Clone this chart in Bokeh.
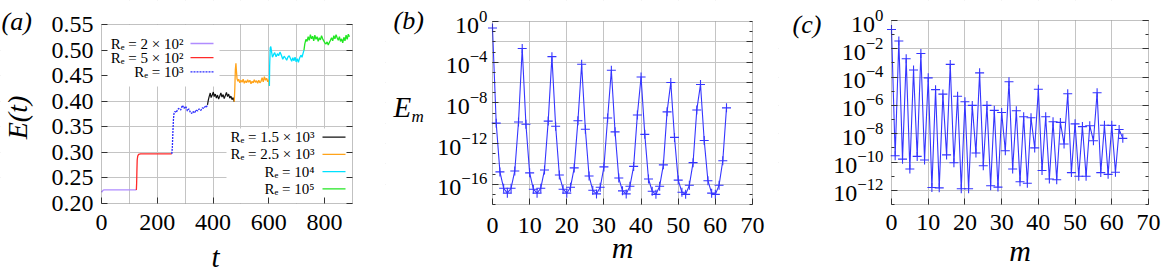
import math
from bokeh.plotting import figure
from bokeh.layouts import row
from bokeh.models import (FixedTicker, Label, BoxAnnotation, Arrow, Range1d,
                          LinearAxis, LogAxis, PrintfTickFormatter, CustomJSTickFormatter)
from bokeh.embed import file_html
from bokeh.resources import INLINE

FONT = "Liberation Serif"

# ---------------- panel (a) data: E(t) segments ----------------
purple_t = [0, 3, 6, 10, 30, 60, 90, 125]
purple_E = [0.222, 0.224, 0.226, 0.2265, 0.2265, 0.2265, 0.2265, 0.2265]

red_t = [125, 126, 127, 128, 130, 133, 140, 180, 220, 252]
red_E = [0.2265, 0.240, 0.265, 0.285, 0.293, 0.296, 0.297, 0.297, 0.297, 0.297]

blue_t = [252, 254, 256, 258, 260, 263, 268, 273, 278, 284, 290, 296, 302, 308,
          313, 318, 323, 328, 334, 339, 345, 350, 356, 362, 367, 372, 376, 380]
blue_E = [0.297, 0.310, 0.340, 0.365, 0.376, 0.380, 0.378, 0.384, 0.386, 0.383,
          0.392, 0.386, 0.390, 0.381, 0.385, 0.379, 0.376, 0.380, 0.377, 0.383,
          0.381, 0.385, 0.382, 0.387, 0.386, 0.390, 0.388, 0.393]

black_t = [380, 383, 386, 390, 393, 397, 401, 404, 408, 412, 416, 420, 424, 428,
           432, 436, 440, 444, 448, 452, 456, 460, 464, 468, 472, 476]
black_E = [0.393, 0.402, 0.409, 0.416, 0.407, 0.412, 0.418, 0.409, 0.414, 0.406,
           0.412, 0.404, 0.410, 0.416, 0.408, 0.413, 0.405, 0.411, 0.417, 0.409,
           0.414, 0.406, 0.410, 0.403, 0.407, 0.399]

orange_t = [476, 478, 480, 482, 484, 486, 489, 492, 496, 500, 504, 508, 512, 516,
            520, 524, 528, 532, 536, 540, 544, 548, 552, 556, 560, 564, 568, 572,
            576, 580, 584, 588, 592, 596, 599, 602]
orange_E = [0.399, 0.425, 0.462, 0.474, 0.458, 0.444, 0.439, 0.443, 0.436, 0.441,
            0.437, 0.443, 0.435, 0.440, 0.436, 0.442, 0.437, 0.441, 0.434, 0.439,
            0.436, 0.442, 0.437, 0.440, 0.435, 0.441, 0.436, 0.439, 0.446, 0.438,
            0.448, 0.441, 0.445, 0.438, 0.442, 0.430]

cyan_t = [602, 603, 605, 607, 610, 613, 617, 621, 626, 631, 635, 640, 645, 650,
          655, 660, 664, 668, 673, 678, 682, 686, 690, 694, 698, 702, 706, 710,
          715, 719, 722, 726]
cyan_E = [0.430, 0.470, 0.504, 0.507, 0.496, 0.486, 0.491, 0.495, 0.487, 0.493,
          0.489, 0.496, 0.490, 0.482, 0.488, 0.484, 0.480, 0.486, 0.489, 0.483,
          0.478, 0.485, 0.479, 0.486, 0.477, 0.483, 0.476, 0.484, 0.490, 0.486,
          0.492, 0.500]

green_t = [726, 729, 733, 737, 741, 745, 749, 753, 757, 761, 765, 769, 773, 777,
           781, 785, 789, 793, 797, 801, 805, 809, 813, 817, 821, 825, 829, 833,
           837, 841, 845, 849, 853, 857, 861, 865, 869, 873, 877, 881, 885, 889]
green_E = [0.500, 0.512, 0.521, 0.517, 0.526, 0.519, 0.530, 0.522, 0.527, 0.518,
           0.529, 0.521, 0.526, 0.517, 0.524, 0.520, 0.528, 0.522, 0.518, 0.514,
           0.512, 0.516, 0.510, 0.515, 0.519, 0.524, 0.518, 0.528, 0.522, 0.530,
           0.524, 0.519, 0.526, 0.517, 0.522, 0.514, 0.525, 0.518, 0.529, 0.521,
           0.531, 0.526]

legend_top = ["Rₑ = 2 × 10²", "Rₑ = 5 × 10²", "Rₑ = 10³"]
legend_bottom = ["Rₑ = 1.5 × 10³", "Rₑ = 2.5 × 10³", "Rₑ = 10⁴", "Rₑ = 10⁵"]

# ---------------- panel (b), (c) data: modal energies ----------------
m_vals = list(range(64))
Em_b = [2.3e-1, 1.0e-10, 1.6e-15, 4.0e-17, 1.3e-17, 4.0e-17, 2.0e-15, 1.3e-10,
        2.2e-3, 7.9e-11, 1.3e-15, 3.2e-17, 1.3e-17, 4.0e-17, 2.5e-15, 1.6e-10,
        3.5e-4, 5.0e-11, 7.9e-16, 3.2e-17, 1.3e-17, 5.0e-17, 4.0e-15, 1.7e-10,
        6.3e-5, 2.5e-11, 6.3e-16, 2.5e-17, 1.1e-17, 5.0e-17, 5.0e-15, 3.2e-10,
        1.6e-5, 1.4e-11, 4.0e-16, 2.2e-17, 1.1e-17, 6.3e-17, 5.6e-15, 6.3e-10,
        3.5e-6, 7.9e-12, 3.2e-16, 2.0e-17, 1.0e-17, 6.3e-17, 7.9e-15, 1.3e-9,
        1.0e-6, 4.0e-12, 2.5e-16, 1.6e-17, 1.0e-17, 7.9e-17, 1.3e-14, 2.0e-9,
        6.3e-7, 2.0e-12, 2.2e-16, 1.3e-17, 1.0e-17, 7.9e-17, 2.0e-14, 3.2e-9]
Em_c = [2.3e-1, 2.8e-10, 3.6e-2, 1.6e-10, 2.0e-3, 3.2e-11, 3.2e-4, 2.5e-10,
        4.7e-3, 1.4e-10, 8.9e-5, 1.6e-12, 1.3e-5, 1.5e-12, 6.3e-6, 3.2e-10,
        7.9e-4, 8.9e-11, 4.4e-6, 1.3e-12, 1.8e-6, 1.3e-12, 1.0e-6, 4.4e-10,
        2.0e-4, 5.5e-11, 1.0e-6, 2.1e-12, 4.5e-7, 1.7e-12, 3.2e-7, 6.3e-10,
        4.7e-5, 3.2e-11, 4.2e-7, 4.0e-12, 1.6e-7, 3.2e-12, 1.35e-7, 1.0e-9,
        1.4e-5, 2.5e-11, 1.6e-7, 6.3e-12, 7.1e-8, 5.6e-12, 6.3e-8, 1.9e-9,
        6.6e-6, 1.8e-11, 5.0e-8, 1.0e-11, 3.2e-8, 1.0e-11, 3.7e-8, 3.2e-9,
        7.9e-6, 1.8e-11, 4.0e-8, 1.35e-11, 3.9e-8, 1.9e-11, 2.0e-8, 4.7e-9]

a_xticks = [0, 200, 400, 600, 800]
a_xgrid = [100, 200, 300, 400, 500, 600, 700, 800]
a_yticks = [0.20, 0.25, 0.30, 0.35, 0.40, 0.45, 0.50, 0.55]
a_ygrid = [0.25, 0.30, 0.35, 0.40, 0.45, 0.50]
m_ticks = [0, 10, 20, 30, 40, 50, 60, 70]
m_grid = [10, 20, 30, 40, 50, 60]
b_yticks = [1e0, 1e-4, 1e-8, 1e-12, 1e-16]
b_ygrid = [10.0 ** -k for k in range(2, 17, 2)]
b_minor = [10.0 ** -k for k in range(0, 19)]
c_yticks = [10.0 ** -k for k in range(0, 13, 2)]
c_ygrid = [10.0 ** -k for k in range(2, 13, 2)]
c_minor = [10.0 ** -k for k in range(0, 14)]

FRAME = "#333333"
GRID = "#c4c4c4"
TICK_FONT = "24px"
H = 272
BLUE = "#3535ff"


def lin(px0, px1, v0, v1):
    return lambda px: v0 + (px - px0) * (v1 - v0) / (px1 - px0)


def make_panel(width, xf, yf, log=False):
    """Figure whose frame is the whole canvas; xf/yf map canvas px -> data."""
    kw = dict(width=width, height=H, x_range=Range1d(xf(0), xf(width)),
              y_range=Range1d(yf(H), yf(0)), output_backend="svg",
              toolbar_location=None, title=None, min_border_left=0,
              min_border_right=0, min_border_top=0, min_border_bottom=0)
    if log:
        kw["y_axis_type"] = "log"
    p = figure(**kw)
    p.outline_line_color = None
    p.background_fill_color = "white"
    p.border_fill_color = "white"
    return p


def style_axes(p):
    for ax in p.axis:
        ax.axis_line_color = None
        ax.major_tick_in = 6
        ax.major_tick_out = 0
        ax.minor_tick_in = 3
        ax.minor_tick_out = 0
        ax.major_tick_line_color = FRAME
        ax.minor_tick_line_color = FRAME
        ax.major_label_text_font = FONT
        ax.major_label_text_font_size = TICK_FONT
        ax.major_label_text_color = "black"
    p.grid.grid_line_color = GRID
    p.grid.grid_line_width = 1


def x_axes(p, ticks, box_bottom, label_loc):
    """Tick labels from the main x axis (placed a little below the box),
    inward tick marks from a second, label-less axis on the box edge."""
    main = p.xaxis[0]
    main.ticker = FixedTicker(ticks=ticks)
    main.fixed_location = label_loc
    p.add_layout(LinearAxis(ticker=FixedTicker(ticks=ticks), formatter=blank,
                            fixed_location=box_bottom), "below")


def box_and_masks(p, x0, x1, y0, y1):
    xs, xe = p.x_range.start, p.x_range.end
    ys, ye = p.y_range.start, p.y_range.end
    for (l, r, b, t) in [(xs, x0, ys, ye), (x1, xe, ys, ye), (x0, x1, y1, ye), (x0, x1, ys, y0)]:
        p.add_layout(BoxAnnotation(left=l, right=r, bottom=b, top=t, fill_color="white",
                                   fill_alpha=1.0, line_color=None, level="underlay"))
    p.add_layout(BoxAnnotation(left=x0, right=x1, bottom=y0, top=y1, fill_color=None,
                               fill_alpha=0.0, line_color=FRAME, line_width=1))


def label(p, x, y, text, size, italic=True, align="left", angle=0.0):
    p.add_layout(Label(x=x, y=y, text=text, text_font=FONT, text_font_size=size,
                       text_font_style="italic" if italic else "normal",
                       text_align=align, text_baseline="middle", angle=angle,
                       text_color="black"))


def labels_only(ax):
    ax.major_tick_in = 0
    ax.major_tick_out = 0
    ax.minor_tick_in = 0
    ax.minor_tick_out = 0


blank = CustomJSTickFormatter(code="return ''")

# ================= panel (a) =================
A_W = 385
ax_x = lin(101, 352, 0.0, 900.0)
ax_y = lin(24, 203, 0.55, 0.20)
p1 = make_panel(A_W, ax_x, ax_y)
x_axes(p1, a_xticks, 0.20, ax_y(203 + 6.5))
p1.yaxis.ticker = FixedTicker(ticks=a_yticks)
p1.yaxis.formatter = PrintfTickFormatter(format="%.2f")
p1.yaxis.fixed_location = 0.0
p1.xgrid.ticker = FixedTicker(ticks=a_xgrid)
p1.ygrid.ticker = FixedTicker(ticks=a_ygrid)
p1.add_layout(LinearAxis(ticker=FixedTicker(ticks=a_yticks), formatter=blank,
                         fixed_location=900.0), "right")
style_axes(p1)
labels_only(p1.xaxis[0])
p1.yaxis.major_label_standoff = 8
box_and_masks(p1, 0.0, 900.0, 0.20, 0.55)

# legend backgrounds (opaque keys), under the data
p1.add_layout(BoxAnnotation(left=0.0, right=ax_x(219), top=0.55, bottom=ax_y(86),
                            fill_color="white", fill_alpha=1.0, line_color=None, level="underlay"))
p1.add_layout(BoxAnnotation(left=ax_x(226), right=900.0, top=ax_y(128), bottom=0.20,
                            fill_color="white", fill_alpha=1.0, line_color=None, level="underlay"))

p1.line(purple_t, purple_E, line_color="#b08cff", line_width=1.3)
p1.line(red_t, red_E, line_color="#ff2a2a", line_width=1.3)
p1.line(blue_t, blue_E, line_color="#2b2bff", line_width=1.3, line_dash="2 1")
p1.line(black_t, black_E, line_color="#111111", line_width=1.2)
p1.line(orange_t, orange_E, line_color="#ffa31a", line_width=1.3)
p1.line(cyan_t, cyan_E, line_color="#00e1ff", line_width=1.3)
p1.line(green_t, green_E, line_color="#22e622", line_width=1.3)

top_cols = [("#b08cff", None), ("#ff2a2a", None), ("#2b2bff", "2 1")]
for i, (txt, (col, dash)) in enumerate(zip(legend_top, top_cols)):
    py = 43 + i * 14.2
    label(p1, ax_x(183), ax_y(py), txt, "15px", italic=False, align="right")
    arr = Arrow(end=None, x_start=ax_x(190), y_start=ax_y(py), x_end=ax_x(213), y_end=ax_y(py),
                line_color=col, line_width=1.3)
    if dash:
        arr.line_dash = dash
    p1.add_layout(arr)

bot_cols = ["#111111", "#ffa31a", "#00e1ff", "#22e622"]
for i, (txt, col) in enumerate(zip(legend_bottom, bot_cols)):
    py = 136.7 + i * 17.2
    label(p1, ax_x(314), ax_y(py), txt, "15px", italic=False, align="right")
    p1.add_layout(Arrow(end=None, x_start=ax_x(322), y_start=ax_y(py), x_end=ax_x(345),
                        y_end=ax_y(py), line_color=col, line_width=1.3))

label(p1, ax_x(1), ax_y(21), "(a)", "26px")
label(p1, ax_x(17), ax_y(117), "E(t)", "28px", align="center", angle=math.pi / 2)
label(p1, ax_x(215), ax_y(256), "t", "29px", align="center")

# ================= panel (b) =================
B_OFF = 385
B_W = 393
bx = lin(492 - B_OFF, 752 - B_OFF, 0.0, 70.0)
by_log = lin(21, 204, 0.0, -18.0)


def by(py):
    return 10.0 ** by_log(py)


p2 = make_panel(B_W, bx, by, log=True)
x_axes(p2, m_ticks, 1e-18, by(204 + 8))
p2.yaxis.ticker = FixedTicker(ticks=b_yticks, minor_ticks=b_minor)
p2.yaxis.fixed_location = 0.0
p2.xgrid.ticker = FixedTicker(ticks=m_grid)
p2.ygrid.ticker = FixedTicker(ticks=b_ygrid)
p2.add_layout(LogAxis(ticker=FixedTicker(ticks=b_ygrid, minor_ticks=b_minor), formatter=blank,
                      fixed_location=70.0), "right")
style_axes(p2)
labels_only(p2.xaxis[0])
p2.yaxis.major_label_standoff = 5
box_and_masks(p2, 0.0, 70.0, 1e-18, 1.0)

p2.line(m_vals, Em_b, line_color=BLUE, line_width=1.1, line_join="round")
p2.scatter(m_vals, Em_b, marker="cross", size=9, line_color=BLUE, line_width=1.1)

label(p2, bx(393 - B_OFF), by(20), "(b)", "26px")
label(p2, bx(393 - B_OFF), by(106.5), "E", "29px")
label(p2, bx(411 - B_OFF), by(115.5), "m", "17px")
label(p2, bx(622 - B_OFF), by(247), "m", "30px", align="center")

# ================= panel (c) =================
C_OFF = 778
C_W = 1162 - C_OFF
cx = lin(891 - C_OFF, 1148 - C_OFF, 0.0, 70.0)
cy_log = lin(20, 204, 0.0, -13.0)


def cy(py):
    return 10.0 ** cy_log(py)


p3 = make_panel(C_W, cx, cy, log=True)
x_axes(p3, m_ticks, 1e-13, cy(204 + 5.5))
p3.yaxis.ticker = FixedTicker(ticks=c_yticks, minor_ticks=c_minor)
p3.yaxis.fixed_location = 0.0
p3.xgrid.ticker = FixedTicker(ticks=m_grid)
p3.ygrid.ticker = FixedTicker(ticks=c_ygrid)
p3.add_layout(LogAxis(ticker=FixedTicker(ticks=c_yticks, minor_ticks=c_minor), formatter=blank,
                      fixed_location=70.0), "right")
style_axes(p3)
labels_only(p3.xaxis[0])
p3.yaxis.major_label_standoff = 8
box_and_masks(p3, 0.0, 70.0, 1e-13, 1.0)

p3.line(m_vals, Em_c, line_color=BLUE, line_width=1.1, line_join="round")
p3.scatter(m_vals, Em_c, marker="cross", size=9, line_color=BLUE, line_width=1.1)

label(p3, cx(792 - C_OFF), cy(24), "(c)", "26px")
label(p3, cx(1019.5 - C_OFF), cy(249.5), "m", "30px", align="center")

layout = row(p1, p2, p3)
open("out.html", "w").write(file_html(layout, INLINE))
